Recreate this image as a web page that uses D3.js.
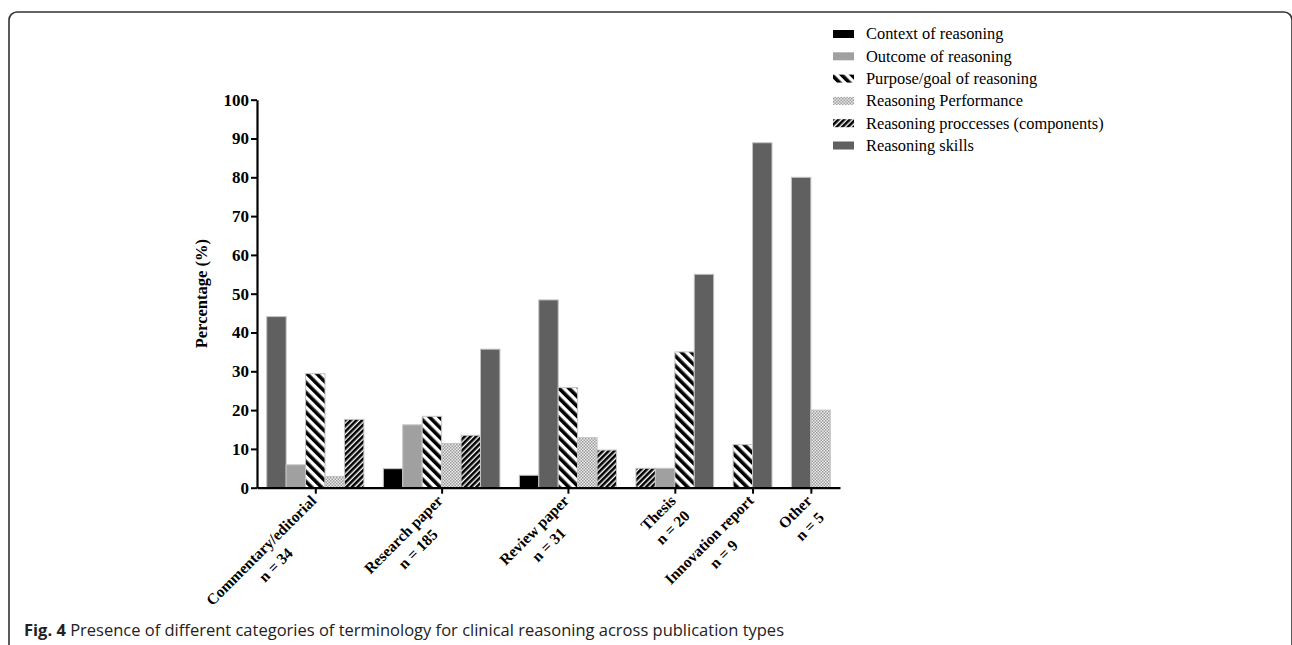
<!DOCTYPE html>
<html>
<head>
<meta charset="utf-8">
<script src="https://cdn.jsdelivr.net/npm/d3@7"></script>
<style>
	body { margin: 0; background: #fff; }
	svg text { font-family: "Liberation Serif", "Times New Roman", serif; }
</style>
</head>
<body>
<div id="chart"></div>
<script>
// publication types (x groups) and their sample sizes
var groups = ["Commentary/editorial", "Research paper", "Review paper", "Thesis", "Innovation report", "Other"];
var groupN = [34, 185, 31, 20, 9, 5];

// terminology categories (legend order)
var categories = ["Context of reasoning", "Outcome of reasoning", "Purpose/goal of reasoning",
	"Reasoning Performance", "Reasoning proccesses (components)", "Reasoning skills"];

// bars inside each group, in the order they are drawn (index into categories)
var groupCats = [
	[5, 1, 2, 3, 4],
	[0, 1, 2, 3, 4, 5],
	[0, 5, 2, 3, 4],
	[4, 1, 2, 5],
	[2, 5],
	[5, 3]
];
// percentage for each of those bars
var groupValues = [
	[44.1, 5.9, 29.4, 2.9, 17.6],
	[4.9, 16.2, 18.4, 11.4, 13.5, 35.7],
	[3.2, 48.4, 25.8, 12.9, 9.7],
	[5, 5, 35, 55],
	[11.1, 88.9],
	[80, 20]
];

var yTicks = [0, 10, 20, 30, 40, 50, 60, 70, 80, 90, 100];

var params = {
	width: 1292,
	height: 645,
	left: 257,
	right: 840,
	top: 99.7,
	bottom: 487.7
};

var svg = d3.select('#chart').append('svg')
	.attr('width', params.width)
	.attr('height', params.height);

// patterns for the hatched fills
var defs = svg.append('defs');
function stripes(id, size, black, angle){
	var p = defs.append('pattern')
		.attr('id', id)
		.attr('patternUnits', 'userSpaceOnUse')
		.attr('width', size)
		.attr('height', size)
		.attr('patternTransform', 'rotate(' + angle + ')');
	p.append('rect').attr('width', size).attr('height', size).attr('fill', '#fff');
	p.append('rect').attr('width', black).attr('height', size).attr('fill', '#000');
}
stripes('purpose', 7, 3.6, -45);
stripes('process', 4, 2.6, 45);
var chk = defs.append('pattern')
	.attr('id', 'perf')
	.attr('patternUnits', 'userSpaceOnUse')
	.attr('width', 3).attr('height', 3);
chk.append('rect').attr('width', 3).attr('height', 3).attr('fill', '#eee');
chk.append('rect').attr('width', 1.5).attr('height', 1.5).attr('fill', '#999');
chk.append('rect').attr('x', 1.5).attr('y', 1.5).attr('width', 1.5).attr('height', 1.5).attr('fill', '#999');

var fills = ['#000', '#a0a0a0', 'url(#purpose)', 'url(#perf)', 'url(#process)', '#606060'];

// figure frame (rounded top corners, open at the bottom)
svg.append('path')
	.attr('d', 'M9,645 V20 A8,8 0 0 1 17,12 H1284 A8,8 0 0 1 1292,20 V645')
	.attr('fill', 'none')
	.attr('stroke', '#333')
	.attr('stroke-width', 1.6);

// each group takes one slot per bar, one empty slot between groups, half a slot at the ends
var bars = [];
var centers = [];
var slot = 0.5;
groupCats.forEach(function(cats, g){
	cats.forEach(function(c, i){
		bars.push({slot: slot + i, cat: c, value: groupValues[g][i]});
	});
	centers.push(slot + cats.length / 2);
	slot += cats.length + 1;
});
var nSlots = slot - 0.5;

var x = d3.scaleLinear().domain([0, nSlots]).range([params.left, params.right]);
var y = d3.scaleLinear().domain([0, 100]).range([params.bottom, params.top]);

var chart = svg.append('g');

chart.selectAll('rect.bar')
	.data(bars)
	.enter()
	.append('rect')
		.attr('class', 'bar')
		.attr('x', function(d){ return x(d.slot); })
		.attr('width', function(d){ return x(d.slot + 1) - x(d.slot); })
		.attr('y', function(d){ return y(d.value); })
		.attr('height', function(d){ return y(0) - y(d.value); })
		.attr('fill', function(d){ return fills[d.cat]; })
		.attr('stroke', '#c4c4c4')
		.attr('stroke-width', 1);

// y axis
var yAxis = chart.append('g')
	.attr('transform', 'translate(' + params.left + ',0)')
	.call(d3.axisLeft(y).tickValues(yTicks).tickSize(6).tickPadding(2).tickSizeOuter(0));
yAxis.select('.domain').attr('stroke', '#000').attr('stroke-width', 2.2);
yAxis.selectAll('.tick line').attr('stroke', '#000').attr('stroke-width', 2);
yAxis.selectAll('.tick text')
	.attr('font-family', '"Liberation Serif", serif')
	.attr('font-weight', 'bold')
	.attr('font-size', 17)
	.attr('fill', '#000');

// x axis
var xAxis = chart.append('g')
	.attr('transform', 'translate(0,' + params.bottom + ')')
	.call(d3.axisBottom(x).tickValues(centers).tickSize(6).tickSizeOuter(0).tickFormat(''));
xAxis.select('.domain').attr('stroke', '#000').attr('stroke-width', 2.2);
xAxis.selectAll('.tick line').attr('stroke', '#000').attr('stroke-width', 2);

// rotated two line category labels, lines centred on each other, block ending at the tick
centers.forEach(function(c, g){
	var lab = chart.append('g')
		.attr('transform', 'translate(' + (x(c) + 2) + ',' + (params.bottom + 14) + ') rotate(-45)');
	var lines = [groups[g], 'n = ' + groupN[g]];
	var texts = lines.map(function(t, i){
		return lab.append('text')
			.attr('y', i * 20.5)
			.attr('text-anchor', 'middle')
			.attr('font-weight', 'bold')
			.attr('font-size', 15.5)
			.text(t);
	});
	var w = d3.max(texts, function(t){ return t.node().getComputedTextLength(); });
	texts.forEach(function(t){ t.attr('x', -w / 2); });
});

// y title
svg.append('text')
	.attr('transform', 'translate(207,' + y(50) + ') rotate(-90)')
	.attr('text-anchor', 'middle')
	.attr('font-weight', 'bold')
	.attr('font-size', 16.5)
	.text('Percentage (%)');

// legend
var legend = svg.append('g').attr('transform', 'translate(833,34)');
var rows = legend.selectAll('g')
	.data(categories)
	.enter()
	.append('g')
		.attr('transform', function(d, i){ return 'translate(0,' + (i * 22.3) + ')'; });
rows.append('rect')
	.attr('y', -4)
	.attr('width', 21)
	.attr('height', 8)
	.attr('fill', function(d, i){ return fills[i]; });
rows.append('text')
	.attr('x', 33)
	.attr('dy', '0.33em')
	.attr('font-size', 16.4)
	.text(function(d){ return d; });

// caption
var cap = svg.append('text')
	.attr('x', 24)
	.attr('y', 636)
	.attr('font-size', 16.5)
	.attr('fill', '#222')
	.style('font-family', '"Open Sans", "Noto Sans", sans-serif');
cap.append('tspan').attr('font-weight', 'bold').text('Fig. 4');
cap.append('tspan').text(' Presence of different categories of terminology for clinical reasoning across publication types');
</script>
</body>
</html>
